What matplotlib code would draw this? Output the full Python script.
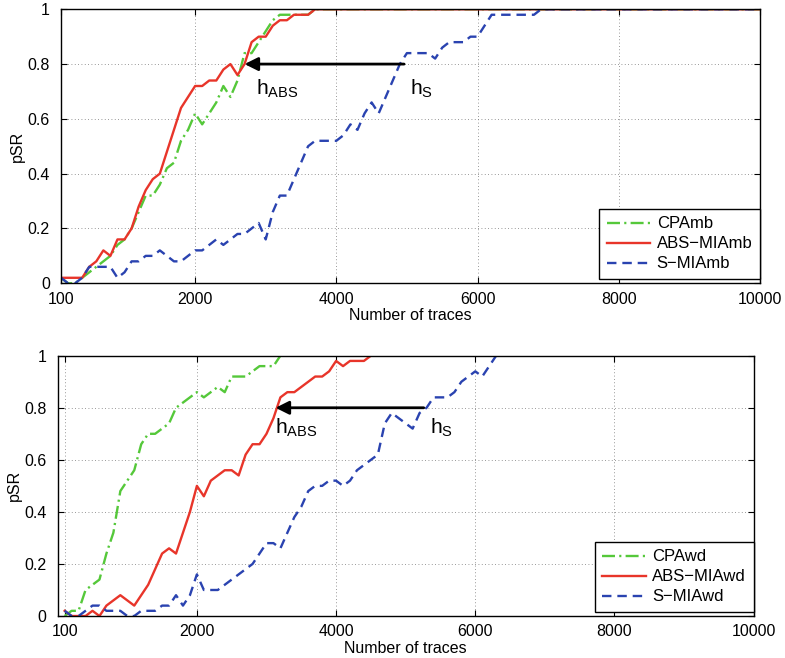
import numpy as np
import matplotlib
matplotlib.use("Agg")
import matplotlib.pyplot as plt

plt.rcParams["font.family"] = ["Liberation Sans", "DejaVu Sans"]
plt.rcParams["mathtext.default"] = "regular"

# Numero de trazas (paso de 100)
trazas = np.arange(100, 10001, 100)

# Panel superior (mb): valores leidos hasta que saturan en 1
cpa_mb = [0.02, 0, 0, 0.02, 0.04, 0.06, 0.08, 0.10, 0.14, 0.16,
          0.20, 0.26, 0.32, 0.32, 0.36, 0.42, 0.44, 0.52, 0.56, 0.62,
          0.58, 0.62, 0.66, 0.72, 0.68, 0.74, 0.84, 0.84, 0.88, 0.92,
          0.96, 0.98, 0.98, 0.98, 0.98, 0.98]
abs_mb = [0.02, 0.02, 0.02, 0.02, 0.06, 0.08, 0.12, 0.10, 0.16, 0.16,
          0.20, 0.28, 0.34, 0.38, 0.40, 0.48, 0.56, 0.64, 0.68, 0.72,
          0.72, 0.74, 0.74, 0.78, 0.80, 0.76, 0.80, 0.88, 0.90, 0.90,
          0.94, 0.96, 0.96, 0.98, 0.98, 0.98]
s_mb = [0.02, 0, 0, 0.02, 0.06, 0.06, 0.06, 0.06, 0.02, 0.04,
        0.08, 0.08, 0.10, 0.10, 0.12, 0.10, 0.08, 0.08, 0.10, 0.12,
        0.12, 0.14, 0.16, 0.14, 0.16, 0.18, 0.18, 0.20, 0.22, 0.16,
        0.26, 0.32, 0.32, 0.38, 0.44, 0.50, 0.52, 0.52, 0.52, 0.52,
        0.54, 0.58, 0.56, 0.62, 0.66, 0.62, 0.68, 0.74, 0.80, 0.84,
        0.84, 0.84, 0.84, 0.82, 0.86, 0.88, 0.88, 0.88, 0.90, 0.90,
        0.94, 0.98, 0.98, 0.98, 0.98, 0.98, 0.98, 0.98]

# Panel inferior (wd)
cpa_wd = [0, 0.02, 0.02, 0.10, 0.12, 0.14, 0.24, 0.32, 0.48, 0.52,
          0.56, 0.66, 0.70, 0.70, 0.72, 0.74, 0.80, 0.82, 0.84, 0.86,
          0.84, 0.86, 0.88, 0.86, 0.92, 0.92, 0.92, 0.94, 0.96, 0.96,
          0.96]
abs_wd = [0.02, 0, 0, 0, 0.02, 0, 0.04, 0.06, 0.08, 0.06,
          0.04, 0.08, 0.12, 0.18, 0.24, 0.26, 0.24, 0.32, 0.40, 0.50,
          0.46, 0.52, 0.54, 0.56, 0.56, 0.54, 0.62, 0.66, 0.66, 0.70,
          0.76, 0.84, 0.86, 0.86, 0.88, 0.90, 0.92, 0.92, 0.94, 0.98,
          0.96, 0.98, 0.98, 0.98]
s_wd = [0.02, 0, 0, 0.02, 0.04, 0.04, 0.02, 0.02, 0.02, 0,
        0, 0.02, 0.02, 0.02, 0.04, 0.04, 0.08, 0.04, 0.08, 0.16,
        0.10, 0.10, 0.10, 0.12, 0.14, 0.16, 0.18, 0.20, 0.24, 0.28,
        0.28, 0.26, 0.32, 0.38, 0.42, 0.48, 0.50, 0.50, 0.52, 0.52,
        0.50, 0.52, 0.56, 0.58, 0.60, 0.62, 0.74, 0.78, 0.76, 0.74,
        0.72, 0.78, 0.80, 0.84, 0.84, 0.84, 0.86, 0.90, 0.92, 0.94,
        0.92, 0.96]


def completar(valores):
    # despues de lo leido, la curva queda en 1
    return np.array(valores + [1.0] * (len(trazas) - len(valores)))


verde = "#55c83a"
rojo = "#e8352a"
azul = "#2a43b0"

paneles = [
    dict(pos=[0.0777, 0.5695, 0.8903, 0.4164], xmin=100,
         series=[cpa_mb, abs_mb, s_mb],
         nombres=["CPAmb", "ABS\u2212MIAmb", "S\u2212MIAmb"],
         flecha=(4960, 2700), h_abs=2860, h_s=5040, h_y=0.75),
    dict(pos=[0.0735, 0.0638, 0.8866, 0.3956], xmin=0,
         series=[cpa_wd, abs_wd, s_wd],
         nombres=["CPAwd", "ABS\u2212MIAwd", "S\u2212MIAwd"],
         flecha=(5260, 3130), h_abs=3120, h_s=5350, h_y=0.765),
]

fig = plt.figure(figsize=(7.85, 6.58), dpi=100)

for p in paneles:
    ax = fig.add_axes(p["pos"])
    cpa, abs_, s = [completar(v) for v in p["series"]]
    ax.plot(trazas, cpa, color=verde, lw=1.7, dashes=(5.5, 1.8, 0.9, 1.8),
            label=p["nombres"][0])
    ax.plot(trazas, abs_, color=rojo, lw=1.7, label=p["nombres"][1])
    ax.plot(trazas, s, color=azul, lw=1.7, dashes=(4, 2.5),
            label=p["nombres"][2])

    ax.set_xlim(p["xmin"], 10000)
    ax.set_ylim(0, 1)
    ax.set_xticks([100, 2000, 4000, 6000, 8000, 10000])
    ax.set_yticks([0, 0.2, 0.4, 0.6, 0.8, 1])
    ax.set_yticklabels(["0", "0.2", "0.4", "0.6", "0.8", "1"])
    ax.tick_params(direction="in", top=True, right=True, labelsize=11.5,
                   length=4, width=0.8)
    ax.tick_params(axis="x", pad=6)
    ax.tick_params(axis="y", pad=8)
    ax.grid(True, color="#777777", linestyle=(0, (1, 3)), linewidth=0.6)
    for sp in ax.spines.values():
        sp.set_linewidth(1.0)
    ax.set_xlabel("Number of traces", fontsize=11.5, labelpad=1)
    ax.set_ylabel("pSR", fontsize=11.5, labelpad=2)

    # flecha h_S -> h_ABS
    x0, x1 = p["flecha"]
    ax.annotate("", xy=(x1, 0.8), xytext=(x0, 0.8),
                arrowprops=dict(arrowstyle="-|>", color="black", lw=2,
                                mutation_scale=20, shrinkA=0, shrinkB=0))
    ax.text(p["h_abs"], p["h_y"], r"h$_{ABS}$", fontsize=15, va="top")
    ax.text(p["h_s"], p["h_y"], r"h$_{S}$", fontsize=15, va="top")

    leg = ax.legend(loc="lower right", bbox_to_anchor=(1.0, 0.016),
                    borderaxespad=0, fontsize=12, fancybox=False,
                    framealpha=1, edgecolor="black", handlelength=2.6,
                    labelspacing=0.3, borderpad=0.45, handletextpad=0.4)
    leg.get_frame().set_linewidth(1.0)

plt.savefig("out.png", dpi=100)
